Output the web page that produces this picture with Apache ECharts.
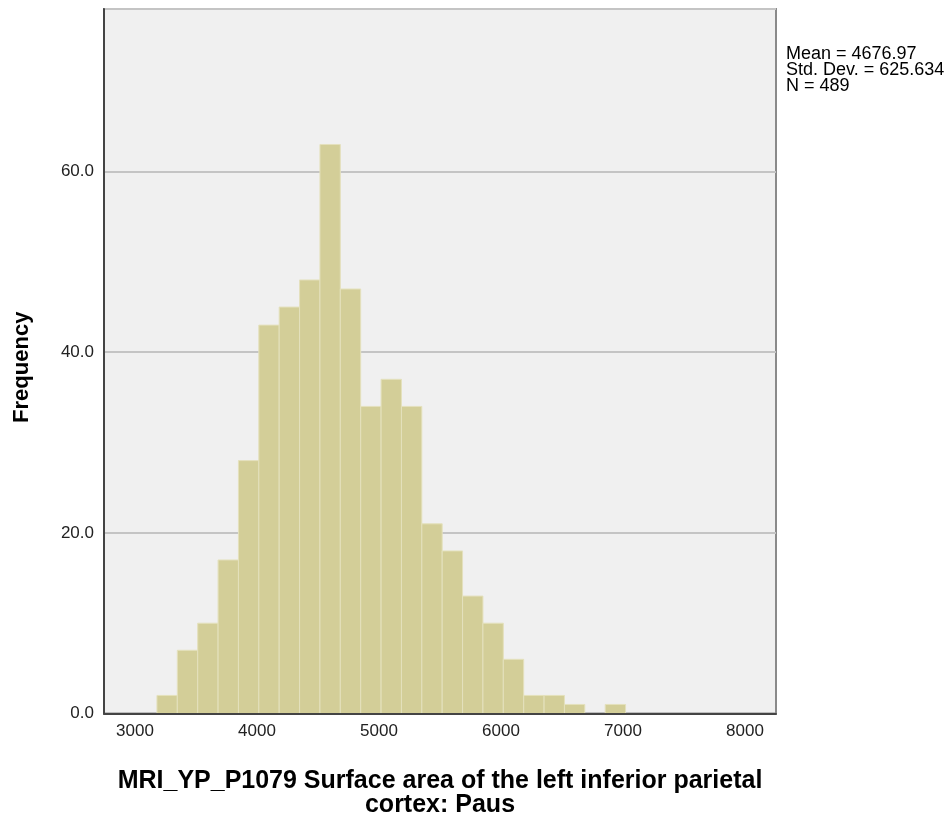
<!DOCTYPE html>
<html><head><meta charset="utf-8">
<script src="https://cdn.jsdelivr.net/npm/echarts@6/dist/echarts.min.js"></script>
<style>html,body{margin:0;padding:0;background:#fff}#c{width:951px;height:823px}</style>
</head><body><div id="c"></div>
<script>
// Histogram bin edges (value units) and frequencies
const binEdges = [3180,3347,3514,3681,3848,4015,4182,4349,4516,4683,4850,5017,5184,5351,5518,5685,5852,6019,6186,6353,6520,6687,6854,7021];
const counts   = [2,7,10,17,28,43,45,48,63,47,34,37,34,21,18,13,10,6,2,2,1,0,1];
const xRange = [2746, 8254];
const yRange = [0, 78];
const yInterval = 20;
const statLines = ['Mean = 4676.97', 'Std. Dev. = 625.634', 'N = 489'];
const xTitle = 'MRI_YP_P1079 Surface area of the left inferior parietal\ncortex: Paus';
const yTitle = 'Frequency';

const data = counts.map((c, i) => [binEdges[i], binEdges[i + 1], c]);
const FONT = '"Liberation Sans", Arial, sans-serif';

const chart = echarts.init(document.getElementById('c'), null, {renderer: 'canvas'});
chart.setOption({
  animation: false,
  backgroundColor: '#ffffff',
  grid: {left: 104, right: 175, top: 9, bottom: 108, show: true,
         backgroundColor: '#f0f0f0', borderColor: '#8a8a8a', borderWidth: 2},
  xAxis: {
    type: 'value', min: xRange[0], max: xRange[1], z: 10,
    axisLine: {show: true, lineStyle: {color: '#444', width: 2}},
    axisTick: {show: false},
    splitLine: {show: false},
    axisLabel: {color: '#222', fontFamily: FONT, fontSize: 17, margin: 9,
                showMinLabel: false, showMaxLabel: false, formatter: v => String(v)},
    name: xTitle, nameLocation: 'middle', nameGap: 56,
    nameTextStyle: {fontFamily: FONT, fontWeight: 'bold', fontSize: 25, color: '#000', lineHeight: 24}
  },
  yAxis: {
    type: 'value', min: yRange[0], max: yRange[1], interval: yInterval, z: 0,
    axisLine: {show: true, lineStyle: {color: '#444', width: 2}},
    axisTick: {show: false},
    splitLine: {show: true, lineStyle: {color: '#c4c4c4', width: 2}},
    axisLabel: {color: '#222', fontFamily: FONT, fontSize: 17, margin: 10, showMaxLabel: false,
                formatter: v => v.toFixed(1)},
    name: yTitle, nameLocation: 'middle', nameGap: 71, nameRotate: 90,
    nameTextStyle: {fontFamily: FONT, fontWeight: 'bold', fontSize: 22, color: '#000', padding: [0, 12, 0, 0]}
  },
  graphic: [{
    type: 'text', left: 786, top: 45, z: 20,
    style: {text: statLines.join('\n'), fontFamily: FONT, fontSize: 18, lineHeight: 16, fill: '#000'}
  }],
  series: [{
    type: 'custom', z: 2,
    data: data,
    encode: {x: [0, 1], y: 2},
    renderItem: function (params, api) {
      const p0 = api.coord([api.value(0), api.value(2)]);
      const p1 = api.coord([api.value(1), 0]);
      return {
        type: 'rect',
        shape: {x: p0[0], y: p0[1], width: p1[0] - p0[0], height: p1[1] - p0[1]},
        style: {fill: '#d3ce98', stroke: '#e4e1bd', lineWidth: 1}
      };
    }
  }]
});
</script></body></html>
